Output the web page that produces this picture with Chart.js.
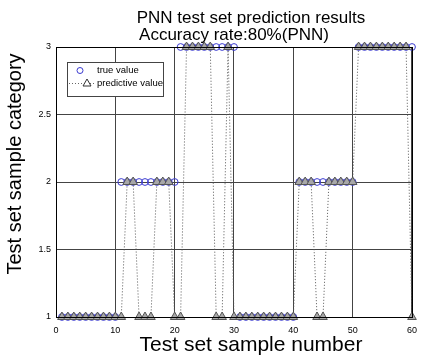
<!DOCTYPE html>
<html>
<head>
<meta charset="utf-8">
<script src="https://cdn.jsdelivr.net/npm/chart.js@4"></script>
<style>
  html, body { margin: 0; padding: 0; background: #fff; }
  #wrap { width: 425px; height: 358px; }
</style>
</head>
<body>
<div id="wrap"><canvas id="myChart" width="425" height="358"></canvas></div>
<script>
// sample numbers 1..60
var sampleNo = [1,2,3,4,5,6,7,8,9,10,11,12,13,14,15,16,17,18,19,20,
                21,22,23,24,25,26,27,28,29,30,31,32,33,34,35,36,37,38,39,40,
                41,42,43,44,45,46,47,48,49,50,51,52,53,54,55,56,57,58,59,60];
var trueVal = [1,1,1,1,1,1,1,1,1,1, 2,2,2,2,2,2,2,2,2,2,
               3,3,3,3,3,3,3,3,3,3, 1,1,1,1,1,1,1,1,1,1,
               2,2,2,2,2,2,2,2,2,2, 3,3,3,3,3,3,3,3,3,3];
var predVal = [1,1,1,1,1,1,1,1,1,1, 1,2,2,1,1,1,2,2,2,1,
               1,3,3,3,3,3,1,1,3,1, 1,1,1,1,1,1,1,1,1,1,
               2,2,2,1,1,2,2,2,2,2, 3,3,3,3,3,3,3,3,3,1];
var yTicks = [1, 1.5, 2, 2.5, 3];
var xTicks = [0, 10, 20, 30, 40, 50, 60];

var titleLines = ["PNN test set prediction results", "Accuracy rate:80%(PNN)"];
var xTitle = "Test set sample number";
var yTitle = "Test set sample category";
var legendLabels = ["true value", "predictive value"];

var FONT = "'Liberation Sans', Arial, sans-serif";
var blue = "#3a3ad0";
var triFill = "#a8a8a8";
var triEdge = "#555555";

function pts(vals) {
  return sampleNo.map(function (x, i) { return { x: x, y: vals[i] }; });
}

var textPlugin = {
  id: 'texts',
  afterDraw: function (chart) {
    var ctx = chart.ctx;
    var a = chart.chartArea;
    ctx.save();
    // frame
    ctx.strokeStyle = "#000";
    ctx.lineWidth = 1;
    ctx.strokeRect(Math.round(a.left) + 0.5, Math.round(a.top) + 0.5,
                   Math.round(a.right - a.left), Math.round(a.bottom - a.top));

    ctx.fillStyle = "#000";
    ctx.textAlign = "center";
    ctx.textBaseline = "middle";
    ctx.font = "17px " + FONT;
    ctx.fillText(titleLines[0], 251, 18);
    ctx.fillText(titleLines[1], 234, 35);

    ctx.font = "21px " + FONT;
    ctx.fillText(xTitle, 251, 345);
    ctx.font = "20px " + FONT;
    ctx.save();
    ctx.translate(15, 164);
    ctx.rotate(-Math.PI / 2);
    ctx.fillText(yTitle, 0, 0);
    ctx.restore();

    // legend box
    var lx = 67, ly = 62, lw = 96, lh = 34;
    ctx.fillStyle = "#fff";
    ctx.fillRect(lx, ly, lw, lh);
    ctx.strokeStyle = "#444";
    ctx.strokeRect(lx + 0.5, ly + 0.5, lw, lh);

    ctx.beginPath();
    ctx.strokeStyle = blue;
    ctx.arc(80, 70.5, 3, 0, Math.PI * 2);
    ctx.stroke();

    ctx.beginPath();
    ctx.setLineDash([1, 2]);
    ctx.strokeStyle = "#666";
    ctx.moveTo(69, 83.5);
    ctx.lineTo(95, 83.5);
    ctx.stroke();
    ctx.setLineDash([]);

    ctx.beginPath();
    ctx.moveTo(87, 79);
    ctx.lineTo(91, 86);
    ctx.lineTo(83, 86);
    ctx.closePath();
    ctx.fillStyle = "#fff";
    ctx.fill();
    ctx.strokeStyle = "#333";
    ctx.stroke();

    ctx.fillStyle = "#000";
    ctx.textAlign = "left";
    ctx.font = "9.5px " + FONT;
    ctx.fillText(legendLabels[0], 97, 70.5);
    ctx.fillText(legendLabels[1], 97, 83.5);
    ctx.restore();
  }
};

var ctx = document.getElementById('myChart').getContext('2d');
var myChart = new Chart(ctx, {
  type: 'line',
  data: {
    datasets: [{
      label: legendLabels[1],
      data: pts(predVal),
      showLine: true,
      borderColor: "#555",
      borderWidth: 1,
      borderDash: [1, 2],
      tension: 0,
      pointStyle: 'triangle',
      pointRadius: 5,
      pointBackgroundColor: triFill,
      pointBorderColor: triEdge,
      pointBorderWidth: 1,
      clip: false,
      order: 0
    }, {
      label: legendLabels[0],
      data: pts(trueVal),
      showLine: false,
      pointStyle: 'circle',
      pointRadius: 3.4,
      pointBackgroundColor: "rgba(0,0,0,0)",
      pointBorderColor: blue,
      pointBorderWidth: 1,
      clip: false,
      order: 1
    }]
  },
  options: {
    responsive: false,
    animation: false,
    layout: { padding: { left: 0, right: 5, top: 47, bottom: 0 } },
    plugins: {
      legend: { display: false },
      title: { display: false },
      tooltip: { enabled: false }
    },
    scales: {
      x: {
        type: 'linear',
        min: 0, max: 60,
        afterFit: function (s) { s.height = 41; },
        afterBuildTicks: function (s) { s.ticks = xTicks.map(function (v) { return { value: v }; }); },
        grid: { color: "#444", lineWidth: 1, drawTicks: false },
        border: { color: "#000" },
        ticks: { color: "#000", padding: 8, maxRotation: 0, font: { size: 9, family: FONT },
                 callback: function (v) { return String(v); } }
      },
      y: {
        type: 'linear',
        min: 1, max: 3,
        afterFit: function (s) { s.width = 56; },
        afterBuildTicks: function (s) { s.ticks = yTicks.map(function (v) { return { value: v }; }); },
        grid: { color: "#444", lineWidth: 1, drawTicks: false },
        border: { color: "#000" },
        ticks: { color: "#000", padding: 5, font: { size: 9, family: FONT },
                 callback: function (v) { return String(v); } }
      }
    }
  },
  plugins: [textPlugin]
});
</script>
</body>
</html>
